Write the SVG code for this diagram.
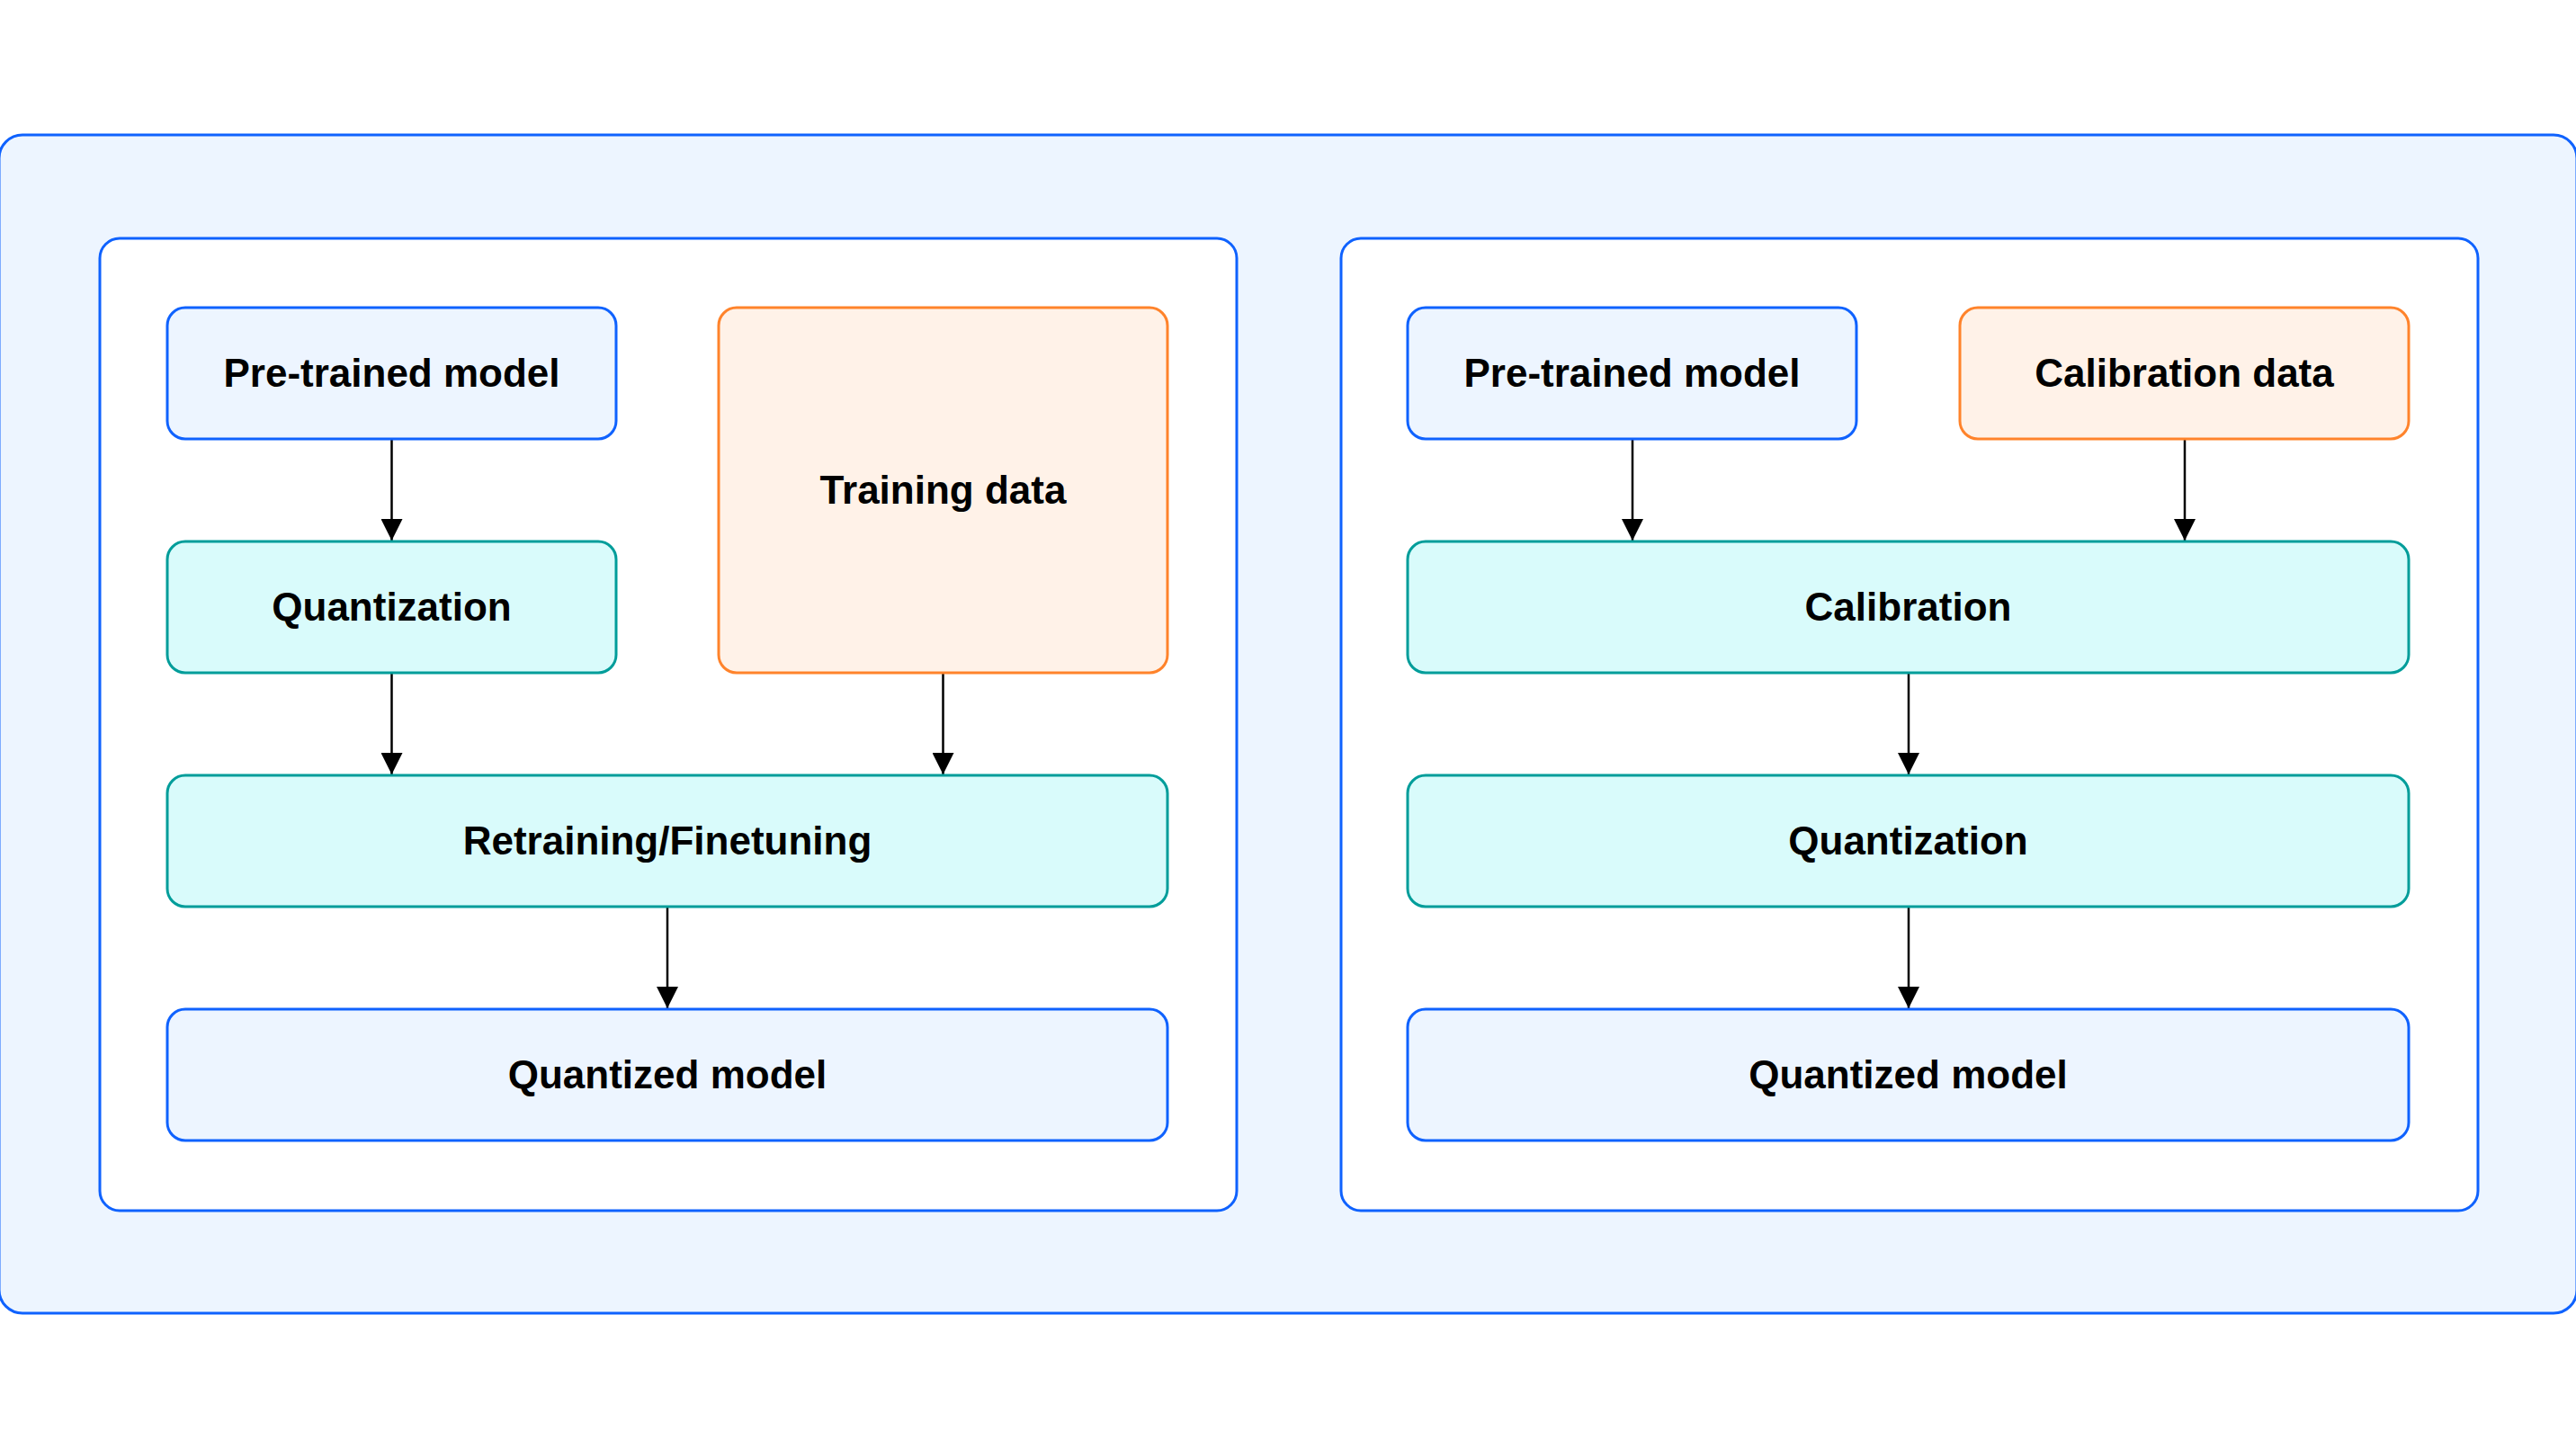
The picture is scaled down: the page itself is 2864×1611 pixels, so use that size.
<svg xmlns="http://www.w3.org/2000/svg" width="2864" height="1611" viewBox="0 0 2864 1611">
<defs>
<style>
.outer{fill:#edf5ff;stroke:#0f62fe;stroke-width:3}
.panel{fill:#ffffff;stroke:#0f62fe;stroke-width:3}
.blue{fill:#edf5ff;stroke:#0f62fe;stroke-width:3}
.teal{fill:#d9fbfb;stroke:#009d9a;stroke-width:3}
.orange{fill:#fff2e8;stroke:#ff832b;stroke-width:3}
.lbl{font-family:"Liberation Sans",Arial,sans-serif;font-weight:bold;font-size:44px;fill:#000;text-anchor:middle}
.conn{stroke:#000;stroke-width:2.5;fill:none;marker-end:url(#arr)}
</style>
<marker id="arr" markerUnits="userSpaceOnUse" markerWidth="24" markerHeight="24" viewBox="0 0 24 24" refX="24" refY="12" orient="auto">
<path d="M0,0 L24,12 L0,24 Z" fill="#000"/>
</marker>
</defs>
<rect id="outer" class="outer" x="-1" y="150" width="2866" height="1310" rx="26"/>
<rect id="panel-left" class="panel" x="111" y="265" width="1264" height="1081" rx="22"/>
<rect id="panel-right" class="panel" x="1491" y="265" width="1264" height="1081" rx="22"/>

<g id="connectors">
<line class="conn" x1="435.5" y1="488" x2="435.5" y2="601"/>
<line class="conn" x1="435.5" y1="748" x2="435.5" y2="861"/>
<line class="conn" x1="1048.5" y1="748" x2="1048.5" y2="861"/>
<line class="conn" x1="742" y1="1008" x2="742" y2="1121"/>
<line class="conn" x1="1815" y1="488" x2="1815" y2="601"/>
<line class="conn" x1="2429" y1="488" x2="2429" y2="601"/>
<line class="conn" x1="2122" y1="748" x2="2122" y2="861"/>
<line class="conn" x1="2122" y1="1008" x2="2122" y2="1121"/>
</g>

<g id="l-pretrained"><rect class="blue" x="186" y="342" width="499" height="146" rx="20"/><text class="lbl" x="435.5" y="430">Pre-trained model</text></g>
<g id="l-training"><rect class="orange" x="799" y="342" width="499" height="406" rx="20"/><text class="lbl" x="1048.5" y="560">Training data</text></g>
<g id="l-quant"><rect class="teal" x="186" y="602" width="499" height="146" rx="20"/><text class="lbl" x="435.5" y="690">Quantization</text></g>
<g id="l-retrain"><rect class="teal" x="186" y="862" width="1112" height="146" rx="20"/><text class="lbl" x="742" y="950">Retraining/Finetuning</text></g>
<g id="l-qmodel"><rect class="blue" x="186" y="1122" width="1112" height="146" rx="20"/><text class="lbl" x="742" y="1210">Quantized model</text></g>

<g id="r-pretrained"><rect class="blue" x="1565" y="342" width="499" height="146" rx="20"/><text class="lbl" x="1814.5" y="430">Pre-trained model</text></g>
<g id="r-calibdata"><rect class="orange" x="2179" y="342" width="499" height="146" rx="20"/><text class="lbl" x="2428.5" y="430">Calibration data</text></g>
<g id="r-calib"><rect class="teal" x="1565" y="602" width="1113" height="146" rx="20"/><text class="lbl" x="2121.5" y="690">Calibration</text></g>
<g id="r-quant"><rect class="teal" x="1565" y="862" width="1113" height="146" rx="20"/><text class="lbl" x="2121.5" y="950">Quantization</text></g>
<g id="r-qmodel"><rect class="blue" x="1565" y="1122" width="1113" height="146" rx="20"/><text class="lbl" x="2121.5" y="1210">Quantized model</text></g>
</svg>
